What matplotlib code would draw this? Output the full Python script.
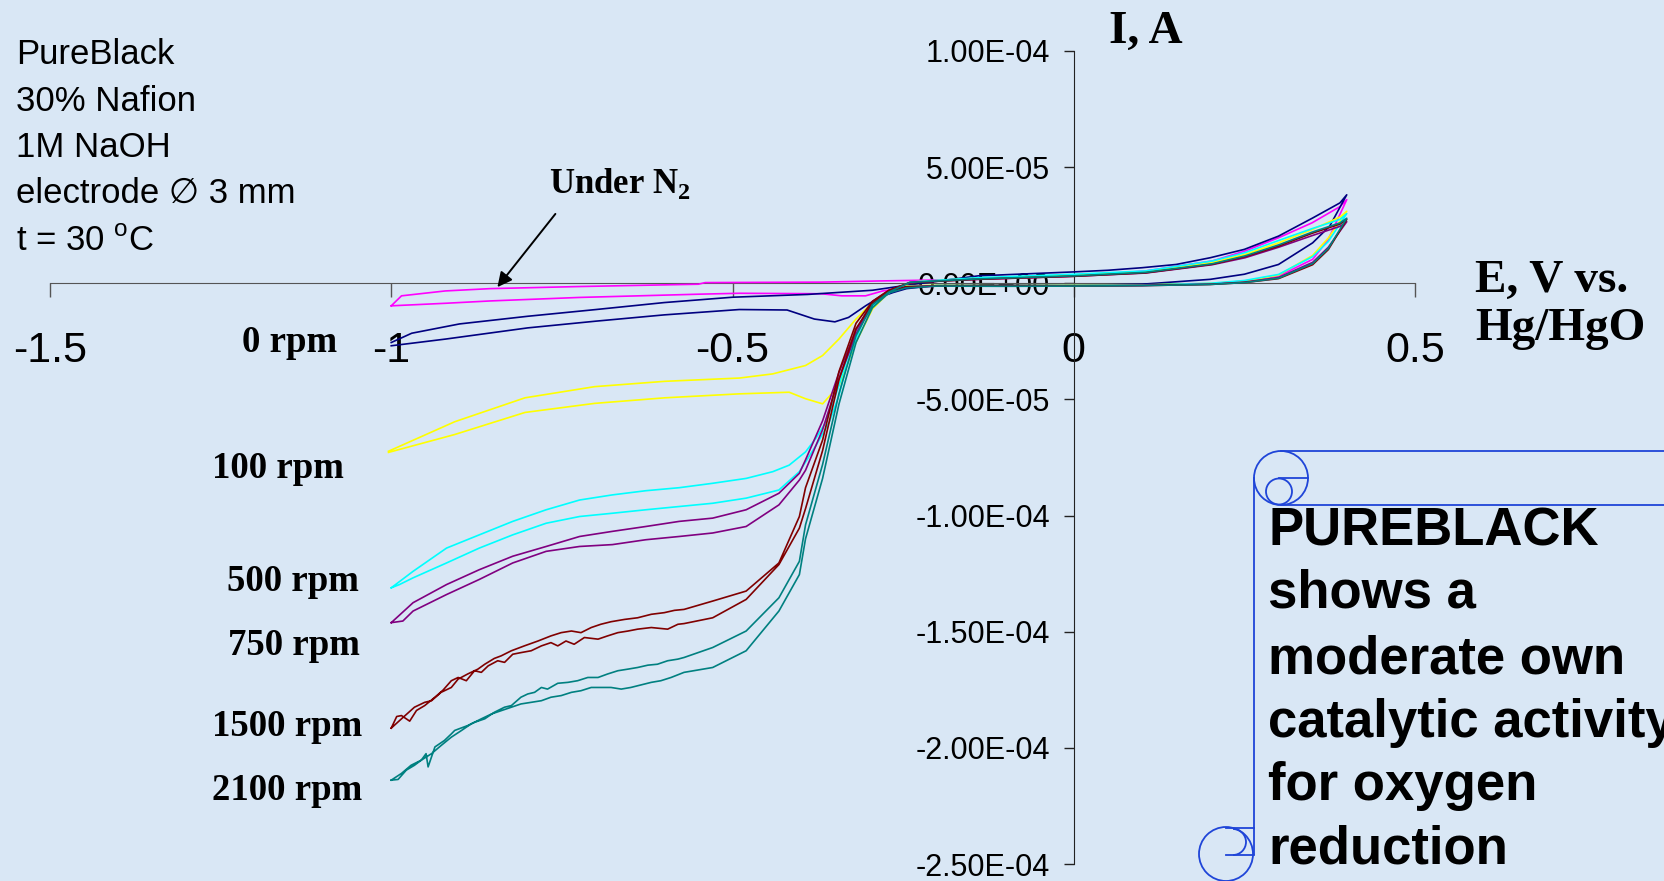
import matplotlib
matplotlib.use("Agg")
import matplotlib.pyplot as plt
from matplotlib.patches import Circle, Arc
from matplotlib.ticker import FuncFormatter

plt.rcParams['mathtext.fontset'] = 'custom'
plt.rcParams['mathtext.rm'] = 'Liberation Sans'
plt.rcParams['mathtext.bf'] = 'Liberation Serif:bold'

# each pair is one closed CV loop: E in V vs Hg/HgO, I in microamps
E_N2 = [-1.0, -0.92, -0.855, -0.725, -0.55, -0.49, -0.37, -0.34, -0.305, -0.28, -0.246,
        -0.2, -0.1, 0.0, 0.1, 0.2, 0.25, 0.3, 0.35, 0.373, 0.4,
        0.39, 0.349, 0.3, 0.251, 0.203, 0.105, 0.0, -0.14, -0.285,
        -0.37, -0.54, -0.55, -0.725, -0.855, -0.921, -0.985, -1.0]
I_N2 = [-9.7, -8.6, -7.6, -6.1, -4.7, -4.3, -4.5, -5.4, -5.4, -3.3, -1.9,
        -1.2, -1.1, -1.1, -0.9, -0.3, 1.0, 3.1, 10.3, 18.9, 36.0,
        33.0, 26.0, 19.6, 13.9, 9.6, 5.3, 3.1, 1.7, 1.0,
        0.5, 0.3, -0.4, -1.4, -2.3, -3.3, -5.4, -9.7]

E_0 = [-1.0, -0.92, -0.8, -0.7, -0.6, -0.49, -0.42, -0.38, -0.35, -0.33, -0.305, -0.285, -0.265, -0.245,
       -0.2, -0.1, 0.0, 0.1, 0.2, 0.25, 0.3, 0.35, 0.375, 0.4,
       0.39, 0.35, 0.3, 0.25, 0.2, 0.15, 0.1, 0.05, 0.0, -0.14,
       -0.246, -0.295, -0.39, -0.5, -0.6, -0.7, -0.8, -0.9, -0.97, -1.0]
I_0 = [-26.9, -24.0, -19.2, -16.3, -13.6, -11.3, -11.5, -15.4, -16.6, -14.7, -9.7, -6.1, -4.0, -2.3,
       -0.9, -0.8, -0.9, -0.4, 1.7, 3.9, 8.1, 17.4, 24.6, 38.1,
       34.6, 28.1, 20.3, 14.6, 11.0, 8.1, 6.7, 5.6, 4.9, 3.2,
       -0.9, -3.0, -4.8, -6.0, -8.3, -11.3, -14.2, -17.5, -21.5, -25.5]

E_100 = [-1.004, -0.907, -0.804, -0.702, -0.599, -0.49, -0.417, -0.393, -0.368, -0.344, -0.319, -0.295, -0.271, -0.246,
         -0.2, -0.1, 0.0, 0.1, 0.2, 0.25, 0.3, 0.35, 0.373, 0.4,
         0.39, 0.349, 0.3, 0.251, 0.203, 0.105, 0.0, -0.14, -0.24,
         -0.271, -0.295, -0.319, -0.344, -0.368, -0.393, -0.441, -0.49, -0.599, -0.702, -0.804, -0.907, -1.004]
I_100 = [-72.8, -65.1, -55.6, -51.7, -49.3, -47.6, -46.9, -49.7, -51.9, -44.0, -25.4, -11.1, -4.0, -1.1,
         -0.9, -1.0, -0.9, -0.7, -0.1, 0.9, 3.5, 12.0, 19.5, 31.0,
         28.5, 23.1, 17.4, 12.4, 8.9, 4.9, 3.5, 2.2, 0.5,
         -4.0, -8.3, -15.4, -24.0, -31.1, -35.4, -39.0, -40.8, -42.2, -44.5, -49.3, -59.6, -72.3]

E_500 = [-1.0, -0.988, -0.968, -0.919, -0.871, -0.822, -0.773, -0.724, -0.676, -0.627, -0.578, -0.529, -0.48, -0.432,
         -0.402, -0.378, -0.358, -0.344, -0.334, -0.319, -0.305, -0.285, -0.266, -0.246,
         -0.2, -0.1, 0.0, 0.1, 0.2, 0.25, 0.3, 0.35, 0.373, 0.4,
         0.39, 0.349, 0.3, 0.251, 0.203, 0.105, 0.0, -0.14, -0.24,
         -0.266, -0.285, -0.305, -0.319, -0.334, -0.344, -0.363, -0.378, -0.393, -0.417, -0.441, -0.48,
         -0.529, -0.578, -0.627, -0.676, -0.724, -0.773, -0.822, -0.871, -0.919, -0.968, -1.0]
I_500 = [-131.1, -129.7, -126.8, -120.4, -114.0, -108.3, -103.3, -100.4, -99.0, -97.5, -96.1, -94.7, -92.5, -89.0,
         -81.1, -70.0, -59.7, -48.3, -36.8, -24.0, -14.0, -6.9, -3.3, -1.4,
         -1.0, -1.1, -1.0, -0.8, 0.0, 1.2, 3.8, 11.5, 18.0, 30.0,
         27.5, 23.5, 18.4, 13.2, 9.6, 5.3, 3.9, 2.4, 0.5,
         -3.0, -6.5, -13.0, -22.0, -34.0, -44.0, -59.7, -66.8, -72.6, -78.3, -81.1, -84.0,
         -86.1, -88.0, -89.3, -91.1, -93.3, -97.5, -102.5, -108.3, -114.0, -124.0, -131.1]

E_750 = [-1.0, -0.983, -0.968, -0.919, -0.871, -0.822, -0.773, -0.724, -0.676, -0.627, -0.578, -0.529, -0.48, -0.432,
         -0.402, -0.393, -0.368, -0.344, -0.319, -0.295, -0.271, -0.246,
         -0.2, -0.1, 0.0, 0.1, 0.2, 0.25, 0.3, 0.35, 0.373, 0.4,
         0.39, 0.349, 0.3, 0.251, 0.203, 0.105, 0.0, -0.14, -0.24,
         -0.271, -0.295, -0.319, -0.344, -0.368, -0.393, -0.402, -0.432, -0.48,
         -0.529, -0.578, -0.627, -0.676, -0.724, -0.773, -0.822, -0.871, -0.919, -0.968, -1.0]
I_750 = [-146.1, -145.4, -141.1, -134.0, -127.5, -120.4, -115.4, -113.3, -112.5, -110.4, -109.0, -107.5, -104.7, -95.4,
         -84.7, -80.5, -63.0, -41.0, -22.0, -8.8, -3.5, -1.5,
         -1.1, -1.2, -1.1, -0.9, -0.4, 0.5, 2.5, 9.0, 15.5, 26.5,
         24.5, 20.5, 15.5, 11.0, 8.0, 4.4, 3.0, 1.8, 0.3,
         -3.1, -7.8, -20.2, -38.4, -59.2, -76.0, -81.8, -90.4, -97.5,
         -101.1, -102.5, -104.7, -106.8, -109.0, -113.3, -117.5, -123.3, -129.7, -137.5, -146.1]

E_1500 = [-1.0, -0.992, -0.985, -0.973, -0.963, -0.951, -0.936, -0.924, -0.912, -0.902, -0.890, -0.878,
          -0.868, -0.858, -0.844, -0.834, -0.822, -0.810, -0.795, -0.780, -0.766, -0.756, -0.744, -0.732,
          -0.717, -0.697, -0.683, -0.668, -0.653, -0.639, -0.619, -0.595, -0.580, -0.571, -0.529, -0.48, -0.432,
          -0.402, -0.393, -0.368, -0.344, -0.319, -0.295, -0.271, -0.246,
          -0.2, -0.1, 0.0, 0.1, 0.2, 0.25, 0.3, 0.35, 0.373, 0.4,
          0.39, 0.349, 0.3, 0.251, 0.203, 0.105, 0.0, -0.14, -0.24,
          -0.271, -0.295, -0.319, -0.344, -0.368, -0.393, -0.402, -0.432, -0.48, -0.529,
          -0.571, -0.585, -0.600, -0.619, -0.639, -0.658, -0.678, -0.693, -0.707, -0.722, -0.736, -0.751,
          -0.766, -0.785, -0.805, -0.824, -0.839, -0.849, -0.863, -0.873, -0.888, -0.902, -0.912, -0.927,
          -0.941, -0.951, -0.966, -0.985, -1.0]
I_1500 = [-191.5, -186.5, -186.1, -188.5, -183.9, -181.8, -178.2, -175.1, -171.1, -169.7, -171.1, -166.8,
          -167.5, -164.7, -162.5, -163.2, -159.7, -159.0, -158.2, -156.1, -154.7, -156.1, -154.0, -155.4,
          -152.5, -153.2, -151.8, -150.4, -149.7, -148.9, -148.2, -148.9, -146.8, -146.5, -144.0, -136.1, -121.1,
          -105.4, -97.0, -72.0, -41.5, -19.5, -8.8, -3.6, -1.5,
          -1.2, -1.2, -1.2, -1.0, -0.5, 0.3, 2.0, 8.0, 14.5, 27.5,
          25.5, 21.5, 16.0, 11.5, 8.2, 4.5, 3.0, 1.7, 0.3,
          -3.0, -7.8, -17.2, -38.0, -67.5, -88.0, -100.4, -120.4, -132.5, -136.8,
          -140.4, -140.8, -141.8, -142.5, -144.0, -144.7, -145.7, -146.8, -148.2, -150.4, -149.7, -150.4,
          -151.8, -154.0, -156.1, -158.2, -160.4, -161.5, -164.0, -166.1, -168.2, -170.4, -174.0, -176.1,
          -179.7, -180.4, -182.5, -187.5, -191.5]

E_2100 = [-1.0, -0.985, -0.971, -0.956, -0.941, -0.927, -0.912, -0.897, -0.883, -0.868, -0.853, -0.839,
          -0.824, -0.810, -0.795, -0.780, -0.766, -0.751, -0.736, -0.722, -0.707, -0.693, -0.678, -0.663,
          -0.649, -0.634, -0.619, -0.605, -0.590, -0.571, -0.529, -0.48, -0.432,
          -0.402, -0.393, -0.368, -0.344, -0.319, -0.295, -0.271, -0.246,
          -0.2, -0.1, 0.0, 0.1, 0.2, 0.25, 0.3, 0.35, 0.373, 0.4,
          0.39, 0.349, 0.3, 0.251, 0.203, 0.105, 0.0, -0.14, -0.24,
          -0.271, -0.295, -0.319, -0.344, -0.368, -0.393, -0.402, -0.432, -0.48, -0.529,
          -0.571, -0.580, -0.595, -0.610, -0.624, -0.639, -0.653, -0.668, -0.683, -0.697, -0.712, -0.727,
          -0.741, -0.756, -0.771, -0.780, -0.790, -0.800, -0.810, -0.824, -0.834, -0.849, -0.863, -0.878,
          -0.888, -0.907, -0.912, -0.922, -0.936, -0.946, -0.949, -0.956, -0.966, -0.978, -0.990, -1.0]
I_2100 = [-213.9, -211.0, -207.5, -205.3, -202.5, -199.0, -195.4, -192.5, -189.7, -187.5, -185.4, -184.0,
          -182.5, -181.1, -180.4, -179.7, -178.2, -177.5, -176.1, -175.4, -174.0, -174.0, -174.0, -174.7,
          -174.0, -172.9, -171.8, -171.1, -169.7, -167.5, -165.4, -158.2, -141.1,
          -125.4, -110.0, -84.0, -52.0, -25.5, -10.5, -4.2, -2.0,
          -1.2, -1.3, -1.2, -1.0, -0.5, 0.3, 2.2, 8.5, 15.0, 28.0,
          26.0, 22.0, 16.5, 11.8, 8.4, 4.7, 3.2, 1.9, 0.4,
          -3.8, -9.2, -22.5, -47.5, -78.0, -104.0, -119.7, -135.4, -149.7, -156.8,
          -161.1, -161.8, -162.5, -164.0, -164.4, -165.4, -166.1, -166.8, -168.2, -169.7, -169.7, -171.1,
          -171.8, -172.2, -174.7, -174.0, -176.1, -176.8, -178.2, -181.8, -182.5, -184.7, -187.5, -189.0,
          -190.4, -192.5, -194.0, -196.8, -199.6, -208.2, -202.5, -205.3, -207.5, -209.6, -213.6, -213.9]

SERIES = [(E_N2, I_N2, '#ff00ff'), (E_0, I_0, '#000080'), (E_100, I_100, '#ffff00'),
          (E_500, I_500, '#00ffff'), (E_750, I_750, '#800080'), (E_1500, I_1500, '#800000'),
          (E_2100, I_2100, '#008080')]

X_TICKS = [-1.5, -1.0, -0.5, 0.0, 0.5]
Y_TICKS = [1e-4, 5e-5, 0.0, -5e-5, -1e-4, -1.5e-4, -2e-4, -2.5e-4]

RPM_LABELS = ['0 rpm', '100 rpm', '500 rpm', '750 rpm', '1500 rpm', '2100 rpm']
INFO_LINES = ['PureBlack', '30% Nafion', '1M NaOH', 'electrode \u2205 3 mm', 't = 30 $^{\\mathrm{o}}$C']
NOTE_LINES = ['PUREBLACK', 'shows a', 'moderate own', 'catalytic activity', 'for oxygen', 'reduction']

W, H = 1664, 881
fig = plt.figure(figsize=(W / 100, H / 100), dpi=100)
fig.patch.set_facecolor('#d9e7f5')

ax = fig.add_axes([50 / W, 1 - 864 / H, 1365 / W, 813 / H])
ax.patch.set_alpha(0)
for E, I, col in SERIES:
    ax.plot(E, [v * 1e-6 for v in I], color=col, lw=1.2, zorder=3)

ax.set_xlim(-1.5, 0.5)
ax.set_ylim(-2.5e-4, 1e-4)
ax.spines['left'].set_position(('data', 0))
ax.spines['bottom'].set_position(('data', 0))
ax.spines['top'].set_visible(False)
ax.spines['right'].set_visible(False)
ax.spines['left'].set_color('#222222')
ax.spines['bottom'].set_color('#555555')
ax.set_xticks(X_TICKS)
ax.set_yticks(Y_TICKS)
ax.xaxis.set_major_formatter(FuncFormatter(lambda v, p: f"{v:g}"))
ax.yaxis.set_major_formatter(FuncFormatter(lambda v, p: f"{v:.2E}"))
ax.tick_params(axis='x', direction='out', length=10, width=1, color='#555555', pad=24)
ax.tick_params(axis='y', direction='out', length=7, width=1, color='#222222', pad=10)
for t in ax.get_xticklabels():
    t.set_fontfamily('Liberation Sans')
    t.set_fontsize(31)
for t in ax.get_yticklabels():
    t.set_fontfamily('Liberation Sans')
    t.set_fontsize(22)

# arrow pointing at the N2 curve
ax.annotate('', xy=(-0.847, -2.6e-6), xytext=(-0.757, 3.08e-5),
            arrowprops=dict(arrowstyle='-|>', color='black', lw=1.4, mutation_scale=22))

# overlay in pixel coordinates for texts and the scroll shape
ov = fig.add_axes([0, 0, 1, 1])
ov.set_xlim(0, W)
ov.set_ylim(H, 0)
ov.axis('off')

sans = ['Liberation Sans', 'DejaVu Sans']
serif = 'Liberation Serif'

for line, yb in zip(INFO_LINES, [64, 111, 157, 203, 251]):
    ov.text(16, yb, line, fontsize=25, family=sans, va='baseline')

ov.text(549, 193, 'Under N$_\\mathbf{2}$', fontsize=25, family=serif, weight='bold', va='baseline')

for lab, (xl, yb) in zip(RPM_LABELS, [(242, 352), (212, 478), (227, 591), (228, 655), (212, 736), (212, 800)]):
    ov.text(xl, yb, lab, fontsize=26.5, family=serif, weight='bold', va='baseline')

ov.text(1109, 43, 'I, A', fontsize=34, family=serif, weight='bold', va='baseline')
ov.text(1475, 292, 'E, V vs.', fontsize=34, family=serif, weight='bold', va='baseline')
ov.text(1475, 340, 'Hg/HgO', fontsize=34, family=serif, weight='bold', va='baseline')

# scroll outline
blue = '#1f45d8'
lw = 1.3
ov.plot([1281, W], [451, 451], color=blue, lw=lw)
ov.plot([1281, W], [505, 505], color=blue, lw=lw)
ov.add_patch(Circle((1281, 478), 27, fill=False, ec=blue, lw=lw))
ov.add_patch(Circle((1279, 491.5), 13, fill=False, ec=blue, lw=lw))
ov.plot([1279, 1308], [478, 478], color=blue, lw=lw)
ov.plot([1254, 1254], [478, 854], color=blue, lw=lw)
ov.add_patch(Circle((1226, 854), 27, fill=False, ec=blue, lw=lw))
ov.plot([1226, 1254], [828, 828], color=blue, lw=lw)
ov.add_patch(Arc((1233, 842), 26, 26, theta1=-90, theta2=90, ec=blue, lw=lw))
ov.plot([1226, 1254], [855, 855], color=blue, lw=lw)

for line, yb in zip(NOTE_LINES, [545, 608, 673, 737, 800, 863]):
    ov.text(1268, yb, line, fontsize=38, family='Liberation Sans', weight='bold', va='baseline')

fig.savefig('out.png', dpi=100, facecolor=fig.get_facecolor())
